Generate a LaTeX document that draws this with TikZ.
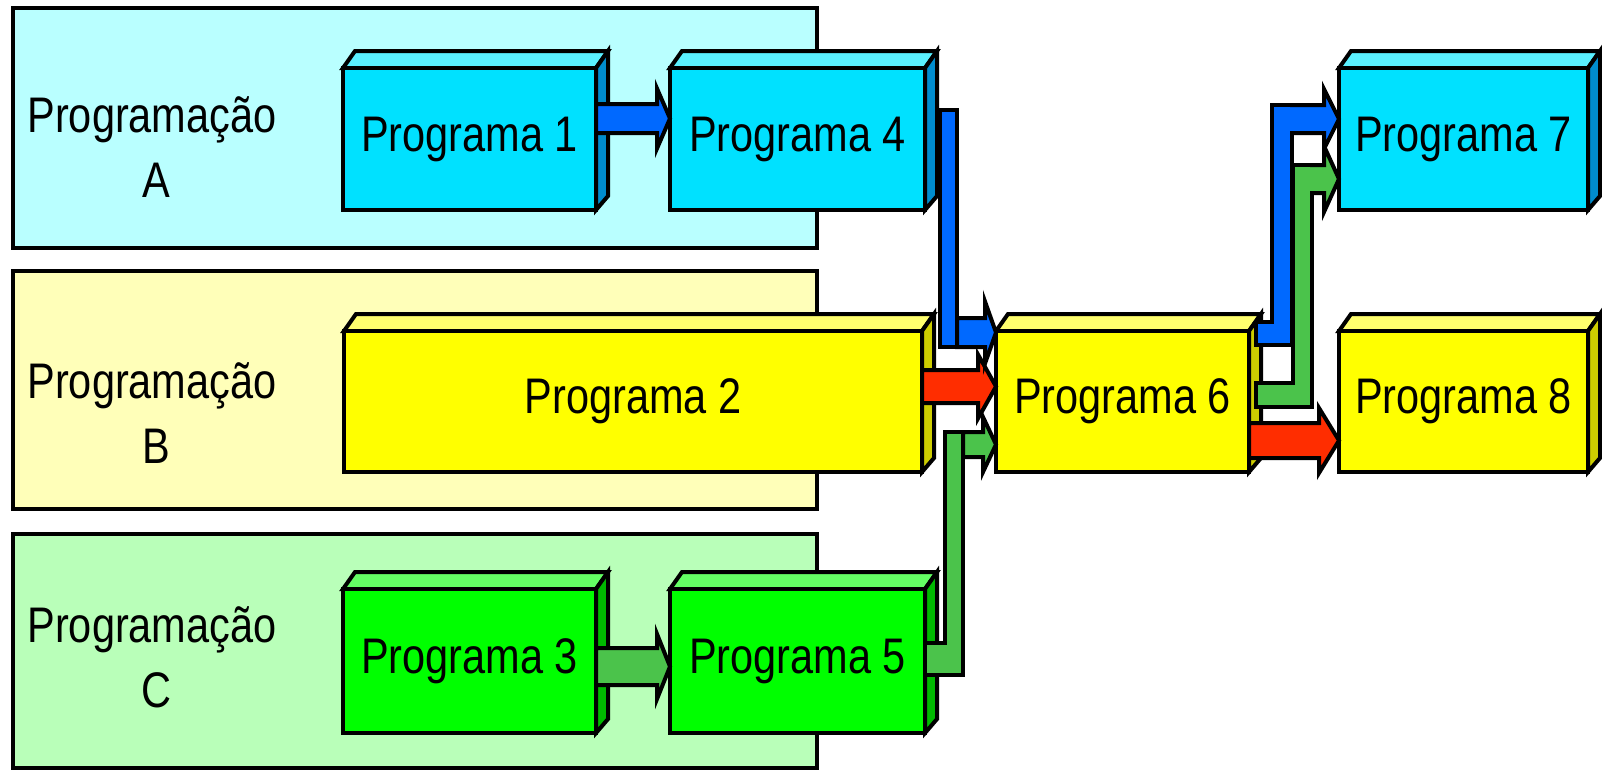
\documentclass[tikz,border=0pt]{standalone}
\usepackage{fontspec}
\setmainfont{Liberation Sans}
\usepackage{graphicx}
\usetikzlibrary{calc}
\definecolor{grpA}{RGB}{185,255,255}
\definecolor{grpB}{RGB}{255,255,185}
\definecolor{grpC}{RGB}{185,255,185}
\definecolor{cyF}{RGB}{0,225,255}
\definecolor{cyT}{RGB}{90,240,255}
\definecolor{cyS}{RGB}{0,140,205}
\definecolor{yeF}{RGB}{255,255,0}
\definecolor{yeT}{RGB}{255,255,110}
\definecolor{yeS}{RGB}{205,205,0}
\definecolor{grF}{RGB}{0,255,0}
\definecolor{grT}{RGB}{100,255,100}
\definecolor{grS}{RGB}{0,185,0}
\definecolor{blueBar}{RGB}{0,105,255}
\definecolor{greenBar}{RGB}{75,195,75}
\definecolor{redBar}{RGB}{255,45,0}
\newcommand\lfont{\fontsize{25}{30}\selectfont}
\newcommand\sq[1]{\scalebox{0.83}[1]{#1}}
\tikzset{
  grp/.style={draw=black, line width=2pt, rectangle, inner sep=0pt, outer sep=0pt},
  front/.style={draw=black, line width=2pt, rectangle, inner sep=0pt, outer sep=0pt, font=\lfont},
  face/.style={draw=black, line width=2pt, line join=miter},
  lbl/.style={anchor=base, inner sep=0pt, font=\lfont},
  conn/.style={draw=black, line width=2pt, line join=miter},
}
% group box: name, x0, y0, x1, y1, colour
\newcommand\grpbox[6]{%
  \node[grp, fill=#6, minimum width={(#4-#2)*0.5pt}, minimum height={(#5-#3)*0.5pt}]
    (#1) at ({(#2+#4)/2},{(#3+#5)/2}) {};}
% program box: name, x0, y0, x1, y1, front, top, side, text
\newcommand\progbox[9]{%
  \filldraw[face, fill=#7] (#2,#3) -- ({#2+12},{#3-17}) -- ({#4+12},{#3-17}) -- (#4,#3) -- cycle;
  \filldraw[face, fill=#8] (#4,#3) -- ({#4+12},{#3-17}) -- ({#4+12},{#5-14}) -- (#4,#5) -- cycle;
  \node[front, fill=#6, minimum width={(#4-#2)*0.5pt}, minimum height={(#5-#3)*0.5pt}]
    (#1) at ({(#2+#4)/2},{(#3+#5)/2}) {\sq{#9}};}
% block arrow: start, tip, half bar, half head, head length, colour
\newcommand\barrow[6]{%
  \filldraw[conn, fill=#6] ($(#1)+(0,-#3)$) -- ($(#2)+(-#5,-#3)$) -- ($(#2)+(-#5,-#4)$)
    -- (#2) -- ($(#2)+(-#5,#4)$) -- ($(#2)+(-#5,#3)$) -- ($(#1)+(0,#3)$) -- cycle;}
\newcommand\segout[2]{\draw[conn] (#1) rectangle (#2);}
\newcommand\segin[3]{\fill[#3] ($(#1)+(2,2)$) rectangle ($(#2)+(-2,-2)$);}
\begin{document}
\begin{tikzpicture}[x=0.5pt,y=-0.5pt]
\useasboundingbox (0,0) rectangle (1602,771);
\fill[white] (0,0) rectangle (1602,771);
% groups
\grpbox{gA}{13}{8}{817}{247.5}{grpA}
\grpbox{gB}{13}{270.5}{817}{509}{grpB}
\grpbox{gC}{13}{534}{817}{768}{grpC}
\node[lbl] (lA1) at (152,132) {\sq{Programação}};
\node[lbl] (lA2) at (156,197) {\sq{A}};
\node[lbl] (lB1) at (152,398) {\sq{Programação}};
\node[lbl] (lB2) at (156,463) {\sq{B}};
\node[lbl] (lC1) at (152,642) {\sq{Programação}};
\node[lbl] (lC2) at (156,707) {\sq{C}};
% programs
\progbox{p1}{343}{68}{596}{210}{cyF}{cyT}{cyS}{Programa 1}
\progbox{p4}{670}{68}{925}{210}{cyF}{cyT}{cyS}{Programa 4}
\progbox{p7}{1339}{68}{1588}{210}{cyF}{cyT}{cyS}{Programa 7}
\progbox{p2}{344}{331}{922}{472}{yeF}{yeT}{yeS}{Programa 2}
\progbox{p6}{996}{331}{1249}{472}{yeF}{yeT}{yeS}{Programa 6}
\progbox{p8}{1339}{331}{1588}{472}{yeF}{yeT}{yeS}{Programa 8}
\progbox{p3}{343}{589}{596}{733}{grF}{grT}{grS}{Programa 3}
\progbox{p5}{670}{589}{925}{733}{grF}{grT}{grS}{Programa 5}
% connectors
\coordinate (s14) at ($(p1.east)+(0,-20.5)$);
\coordinate (t14) at (p4.west |- s14);
\barrow{s14}{t14}{14.5}{30}{13}{blueBar}
\coordinate (s35) at ($(p3.east)+(0,5.5)$);
\coordinate (t35) at (p5.west |- s35);
\barrow{s35}{t35}{18.5}{32.5}{13}{greenBar}
\coordinate (s26) at ($(p2.east)+(0,-15)$);
\coordinate (t26) at (p6.west |- s26);
\barrow{s26}{t26}{16.5}{32}{18}{redBar}
\coordinate (s68) at ($(p6.east)+(0,39)$);
\coordinate (t68) at (p8.west |- s68);
\barrow{s68}{t68}{17.5}{32.5}{20}{redBar}
% Programa 4 -> Programa 6
\coordinate (a46) at ($(p4.east)+(15,-29)$);
\coordinate (b46) at (957,347);
\segout{a46}{b46}
\segin{a46}{b46}{blueBar}
\coordinate (s46) at (957,332.5);
\coordinate (t46) at (p6.west |- s46);
\barrow{s46}{t46}{14.5}{31}{11}{blueBar}
% Programa 5 -> Programa 6
\coordinate (a56) at ($(p5.east)+(0,-18)$);
\coordinate (b56) at (963,675);
\coordinate (c56) at (945,432);
\segout{a56}{b56}
\segout{c56}{b56}
\segin{a56}{b56}{greenBar}
\segin{c56}{b56}{greenBar}
\coordinate (s56) at (963,444.5);
\coordinate (t56) at (p6.west |- s56);
\barrow{s56}{t56}{12.5}{27.5}{13}{greenBar}
% Programa 6 -> Programa 7 (blue)
\coordinate (a67) at (1256,322);
\coordinate (b67) at (1292,345);
\coordinate (c67) at (1272,105);
\segout{a67}{b67}
\segout{c67}{b67}
\coordinate (s67) at (1272,119);
\coordinate (t67) at (p7.west |- s67);
\barrow{s67}{t67}{14}{30}{15}{blueBar}
\segin{a67}{b67}{blueBar}
\segin{c67}{b67}{blueBar}
% Programa 6 -> Programa 7 (green)
\coordinate (d67) at (1256,383);
\coordinate (e67) at (1312,407);
\coordinate (f67) at (1293,165);
\segout{d67}{e67}
\segout{f67}{e67}
\coordinate (g67) at (1293,179);
\coordinate (h67) at (p7.west |- g67);
\barrow{g67}{h67}{14}{33}{15}{greenBar}
\segin{d67}{e67}{greenBar}
\segin{f67}{e67}{greenBar}
\end{tikzpicture}
\end{document}
